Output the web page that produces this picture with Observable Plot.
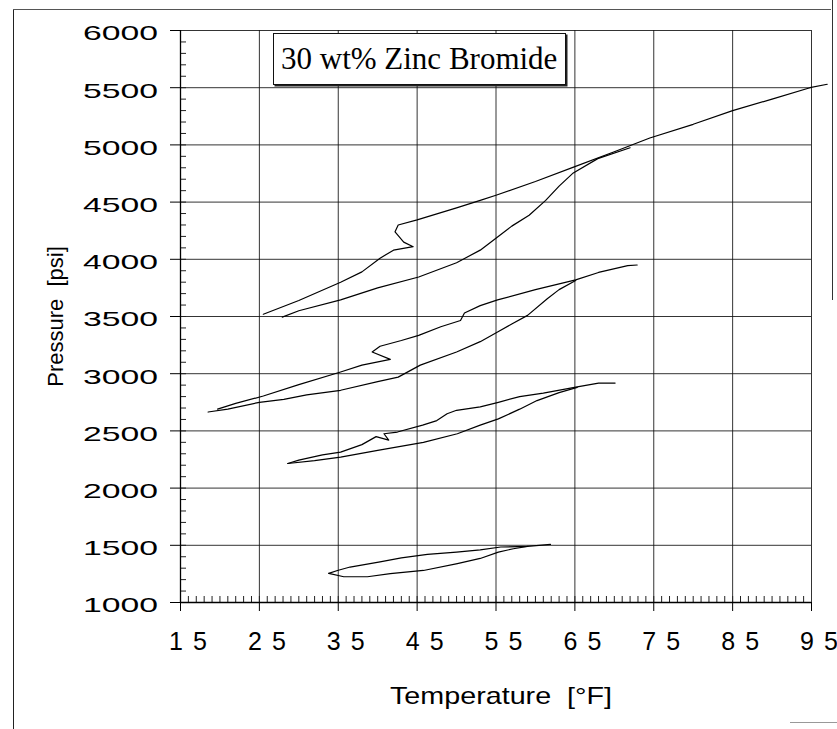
<!DOCTYPE html>
<html><head><meta charset="utf-8">
<script src="https://cdn.jsdelivr.net/npm/d3@7"></script>
<script src="https://cdn.jsdelivr.net/npm/@observablehq/plot@0.6"></script>
<style>
body{margin:0;background:#fff;}
#wrap{position:relative;width:837px;height:729px;overflow:hidden;background:#fff;}
#wrap svg{position:absolute;left:0;top:0;}
#frameL{position:absolute;left:13px;top:9px;width:0;height:720px;border-left:1.2px solid #222;}
#frameT{position:absolute;left:13px;top:9px;width:818px;height:0;border-top:1px solid #555;}
#frameR{position:absolute;left:832px;top:0;width:0;height:300px;border-left:1.2px solid #333;}
#frameB{position:absolute;left:790px;top:722px;width:47px;height:0;border-top:1px solid #999;}
#title{position:absolute;left:273px;top:33px;width:293px;height:52px;border:1.3px solid #111;
  box-shadow:1.5px 1.5px 0 #222;background:#fff;font-family:"Liberation Serif","Times New Roman",serif;
  font-size:31px;line-height:50px;padding-left:7px;box-sizing:border-box;white-space:nowrap;color:#000;}
</style></head><body><div id="wrap"><div id="frameL"></div><div id="frameT"></div><div id="frameR"></div><div id="frameB"></div></div>
<script>
// Tick values
const xTicks = [15, 25, 35, 45, 55, 65, 75, 85, 95];
const yTicks = [1000, 1500, 2000, 2500, 3000, 3500, 4000, 4500, 5000, 5500, 6000];
const xMinor = d3.range(16, 95, 1);
const yMinor = d3.range(1100, 6000, 100);

// [Temperature °F, Pressure psi]
const loopA_upper = [[25.5,3520],[30,3640],[35.3,3800],[38,3890],[40.3,4010],[42,4080],[44.5,4110],[43.3,4150],[42.2,4240],[42.6,4300],[45,4345],[50,4450],[53,4515],[55,4560],[60,4680],[65,4810],[70,4940],[74.5,5060],[80,5180],[85,5300],[90,5400],[94.8,5500],[97,5530]];
const loopA_lower = [[27.9,3495],[30,3550],[35.3,3645],[40,3750],[45.2,3845],[50,3970],[53,4080],[55.2,4195],[57,4290],[59.2,4385],[61.3,4515],[63,4640],[64.8,4755],[67.9,4880],[72,4975]];
const loopB_upper = [[19.7,2690],[22,2740],[25.5,2805],[30,2905],[35.3,3015],[38,3075],[41.6,3125],[39.3,3190],[40.3,3240],[43,3290],[45.2,3335],[48,3410],[50.5,3465],[51,3530],[53,3595],[55.2,3645],[60,3735],[65.1,3820],[68,3885],[71.7,3945],[72.9,3950]];
const loopB_lower = [[18.5,2665],[21,2690],[25,2750],[28.1,2775],[31,2815],[35.3,2855],[40,2930],[42.6,2970],[45.4,3075],[50,3190],[53,3280],[55.2,3365],[57,3435],[59,3510],[61.5,3655],[63,3735],[65.1,3815]];
const loopC_upper = [[28.6,2215],[30,2245],[33,2290],[35.3,2315],[38,2380],[39.8,2450],[41.4,2420],[40.8,2475],[42.5,2490],[45.7,2550],[47.5,2590],[48.8,2650],[50,2680],[53,2710],[55.3,2750],[58,2800],[61,2830],[65.3,2885],[68,2918],[70.1,2918]];
const loopC_lower = [[28.6,2215],[32,2240],[35.3,2270],[40,2330],[45.8,2400],[50.1,2475],[53,2550],[55.3,2605],[58,2690],[60.2,2765],[63,2835],[65.3,2880]];
const loopD_upper = [[33.8,1255],[34.9,1280],[36.5,1310],[40.3,1355],[43,1390],[46.3,1420],[50,1440],[53,1460],[55.6,1485],[59,1490],[61.9,1508]];
const loopD_lower = [[33.8,1255],[35.7,1225],[38.7,1225],[41.6,1252],[45.8,1280],[50.1,1340],[53,1385],[55.3,1440],[57.2,1470],[59,1490]];

const seriesList = [
  ["A upper", loopA_upper], ["A lower", loopA_lower],
  ["B upper", loopB_upper], ["B lower", loopB_lower],
  ["C upper", loopC_upper], ["C lower", loopC_lower],
  ["D upper", loopD_upper], ["D lower", loopD_lower]
];
const data = seriesList.flatMap(([name, pts]) => pts.map(([t, p]) => ({series: name, t, p})));

const W = 837, H = 729, ML = 180, MR = 26, MT = 30, MB = 127;
const innerW = W - ML - MR, innerH = H - MT - MB;
const font = '"Liberation Sans", Arial, sans-serif';
const plot = Plot.plot({
  width: W, height: H,
  marginLeft: ML, marginRight: MR, marginTop: MT, marginBottom: MB,
  style: {fontFamily: font, background: "transparent", color: "black", overflow: "visible"},
  x: {domain: [15, 95]},
  y: {domain: [1000, 6000]},
  marks: [
    Plot.gridX(xTicks, {stroke: "#111", strokeOpacity: 0.85, strokeWidth: 1}),
    Plot.gridY(yTicks, {stroke: "#111", strokeOpacity: 0.85, strokeWidth: 1}),
    Plot.tickX(xMinor, {x: d => d, insetTop: innerH - 6, stroke: "#222", strokeWidth: 1}),
    Plot.tickY(yMinor, {y: d => d, insetRight: innerW - 6, stroke: "#222", strokeWidth: 1}),
    Plot.axisX(xTicks, {tickSize: 9, tickPadding: 21, tickFormat: d => String(d),
      label: "Temperature  [°F]", labelAnchor: "center", labelOffset: 103, labelArrow: false}),
    Plot.axisY(yTicks, {tickSize: 10, tickPadding: 12, tickFormat: d => String(d),
      label: "Pressure  [psi]", labelAnchor: "center", labelOffset: 133, labelArrow: false}),
    Plot.ruleX([15], {stroke: "#000", strokeWidth: 1.3}),
    Plot.ruleY([1000], {stroke: "#000", strokeWidth: 1.3}),
    Plot.line(data, {x: "t", y: "p", z: "series", stroke: "#000", strokeWidth: 1.2})
  ]
});
document.getElementById("wrap").appendChild(plot);

const svg = d3.select(plot);
const xs = plot.scale("x"), ys = plot.scale("y");
// make x / y attributes plain pixel numbers without moving the text
function normalize(el, attr) {
  const v = el.getAttribute(attr);
  if (v === null || v === "" || !isNaN(+v)) return;
  const r1 = el.getBoundingClientRect();
  el.setAttribute(attr, 0);
  const r2 = el.getBoundingClientRect();
  el.setAttribute(attr, attr === "x" ? r1.left - r2.left : r1.top - r2.top);
}
function nudge(el, dx, dy) {
  normalize(el, "x"); normalize(el, "y");
  el.setAttribute("x", (+el.getAttribute("x") || 0) + dx);
  el.setAttribute("y", (+el.getAttribute("y") || 0) + dy);
}
// y tick labels: wide digits, right edge at 158
svg.selectAll('g[aria-label="y-axis tick label"] text').each(function() {
  this.style.fontSize = "21px";
  this.setAttribute("textLength", 75);
  this.setAttribute("lengthAdjust", "spacingAndGlyphs");
  const v = +this.textContent;
  const r = this.getBoundingClientRect();
  const capCenter = r.bottom - 0.212 * 21 - 7.5;
  nudge(this, 158 - r.right, ys.apply(v) + 2.5 - capCenter);
});
// x tick labels: spaced digits, below the axis
svg.selectAll('g[aria-label="x-axis tick label"] text').each(function() {
  this.style.fontSize = "25px";
  this.setAttribute("textLength", 38);
  this.setAttribute("lengthAdjust", "spacing");
  const v = +this.textContent;
  const r = this.getBoundingClientRect();
  nudge(this, xs.apply(v) + 8 - (r.left + r.right) / 2, 650 + 0.212 * 25 - r.bottom);
});
// axis titles
svg.selectAll('g[aria-label="x-axis label"] text').each(function() {
  this.style.fontSize = "24px";
  this.setAttribute("textLength", 222);
  this.setAttribute("lengthAdjust", "spacingAndGlyphs");
  const r = this.getBoundingClientRect();
  nudge(this, 501 - (r.left + r.right) / 2, 704 + 0.212 * 24 - r.bottom);
});
svg.selectAll('g[aria-label="y-axis label"] text').each(function() {
  this.style.fontSize = "22px";
});

const title = document.createElement("div");
title.id = "title";
title.textContent = "30 wt% Zinc Bromide";
document.getElementById("wrap").appendChild(title);
</script></body></html>
